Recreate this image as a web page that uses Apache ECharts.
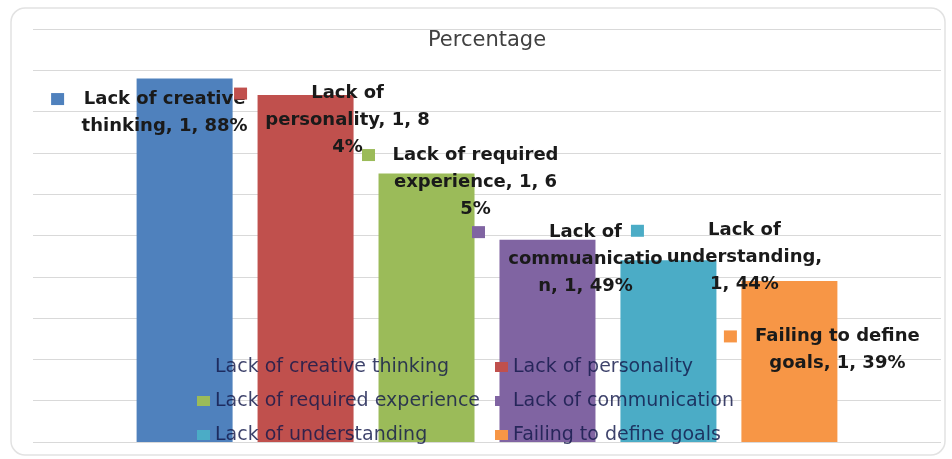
<!DOCTYPE html>
<html>
<head>
<meta charset="utf-8">
<script src="https://cdn.jsdelivr.net/npm/echarts@6/dist/echarts.min.js"></script>
<style>
  html, body { margin: 0; padding: 0; background: #fff; }
  #chart { width: 952px; height: 459px; }
</style>
</head>
<body>
<div id="chart"></div>
<script>
// Data: one category ("1"), six series, percentages.
var categories = ['1'];
var seriesNames = [
  'Lack of creative thinking',
  'Lack of personality',
  'Lack of required experience',
  'Lack of communication',
  'Lack of understanding',
  'Failing to define goals'
];
var seriesValues = [88, 84, 65, 49, 44, 39];
// Data label text exactly as wrapped in the source (typo included).
var labelLines = [
  ['Lack of creative', 'thinking, 1, 88%'],
  ['Lack of', 'personality, 1, 8', '4%'],
  ['Lack of required', 'experience, 1, 6', '5%'],
  ['Lack of', 'commuanicatio', 'n, 1, 49%'],
  ['Lack of', 'understanding,', '1, 44%'],
  ['Failing to define', 'goals, 1, 39%']
];
var yMin = 0, yMax = 100, yStep = 10;

var COLORS = ['#4F81BD', '#C0504D', '#9BBB59', '#8064A2', '#4BACC6', '#F79646'];
// label anchor relative to each bar's top-left corner (styling only)
var LABEL_POS = [[15, 7], [77, -15], [84, -32], [73, -21], [111, -43], [83, 42]];

function labelFormatter(idx) {
  return function () {
    var lines = labelLines[idx];
    var out = [];
    for (var i = 0; i < lines.length; i++) {
      if (i === 0) out.push('{k|}{g|}{t|' + lines[i] + '}');
      else out.push('{s|}{t|' + lines[i] + '}');
    }
    return out.join('\n');
  };
}

var series = [];
for (var i = 0; i < seriesNames.length; i++) {
  series.push({
    name: seriesNames[i],
    type: 'bar',
    data: [seriesValues[i]],
    barWidth: 96,
    barGap: '26%',
    itemStyle: { color: COLORS[i] },
    label: {
      show: true,
      position: LABEL_POS[i],
      align: 'center',
      verticalAlign: 'top',
      formatter: labelFormatter(i),
      rich: {
        k: { width: 13, height: 12, backgroundColor: COLORS[i], align: 'left', lineHeight: 27 },
        g: { width: 13, align: 'left', lineHeight: 27 },
        s: { width: 26, align: 'left', lineHeight: 27 },
        t: {
          width: 175, align: 'center', lineHeight: 27,
          fontFamily: 'DejaVu Sans', fontWeight: 'bold', fontSize: 18, color: '#1a1a1a'
        }
      }
    }
  });
}

var chart = echarts.init(document.getElementById('chart'), null, { renderer: 'canvas' });
chart.setOption({
  animation: false,
  backgroundColor: '#fff',
  graphic: [{
    type: 'rect',
    shape: { x: 11, y: 8, width: 934, height: 447, r: 14 },
    style: { fill: 'none', stroke: '#e2e2e2', lineWidth: 1.5 },
    z: 0, silent: true
  }],
  title: {
    text: 'Percentage',
    left: 487,
    textAlign: 'center',
    top: 30,
    padding: 0,
    textStyle: { fontFamily: 'DejaVu Sans', fontSize: 21, fontWeight: 'normal', color: '#404040' }
  },
  legend: {
    data: seriesNames,
    left: 197,
    top: 354,
    width: 600,
    padding: 0,
    icon: 'rect',
    itemWidth: 13,
    itemHeight: 10,
    itemGap: 8,
    textStyle: {
      fontFamily: 'DejaVu Sans', fontSize: 19, color: 'rgba(18,24,75,0.82)',
      width: 272, lineHeight: 26, overflow: 'none'
    }
  },
  grid: { left: 33, right: 11, top: 29, bottom: 17, containLabel: false },
  xAxis: {
    type: 'category',
    data: categories,
    axisLine: { show: false },
    axisTick: { show: false },
    axisLabel: { show: false }
  },
  yAxis: {
    type: 'value',
    min: yMin, max: yMax, interval: yStep,
    axisLine: { show: false },
    axisTick: { show: false },
    axisLabel: { show: false },
    splitLine: { lineStyle: { color: '#d9d9d9', width: 1 } }
  },
  series: series
});
</script>
</body>
</html>
